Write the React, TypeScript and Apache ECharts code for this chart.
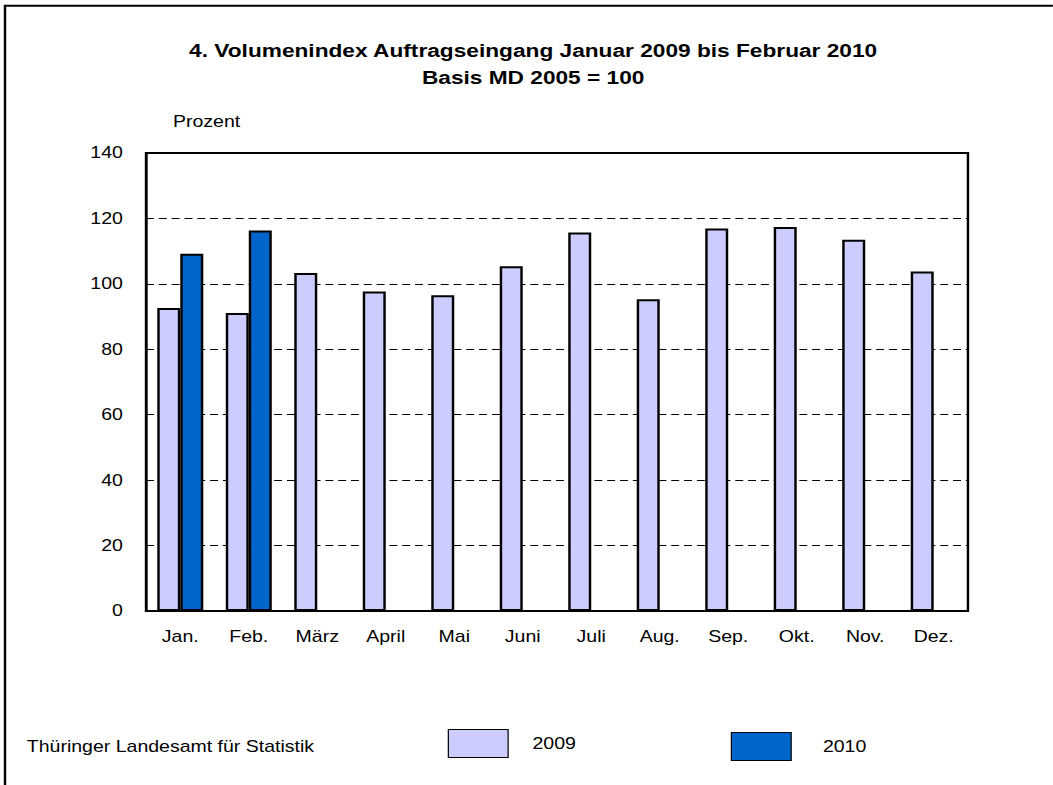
import React, { useEffect, useRef } from "react";
import * as echarts from "echarts";

const months = ["Jan.", "Feb.", "März", "April", "Mai", "Juni", "Juli", "Aug.", "Sep.", "Okt.", "Nov.", "Dez."];
const index2009 = [92.6, 91.1, 103.3, 97.7, 96.5, 105.4, 115.7, 95.3, 116.9, 117.4, 113.5, 103.8];
const index2010 = [109.2, 116.3, null, null, null, null, null, null, null, null, null, null];
const seriesNames = ["2009", "2010"];
const titleLines = ["4. Volumenindex Auftragseingang Januar 2009 bis Februar 2010", "Basis MD 2005 = 100"];
const yUnit = "Prozent";
const sourceText = "Thüringer Landesamt für Statistik";

// The reference is drawn horizontally stretched; reproduce with a CSS scale.
const SX = 1.22;
const W = Math.round(1053 / SX);
const H = 785;
const FONT = "'Liberation Sans', Arial, sans-serif";

export default function App() {
  const ref = useRef<HTMLDivElement>(null);
  useEffect(() => {
    const chart = echarts.init(ref.current!, null, { renderer: "svg" });
    chart.setOption({
      animation: false,
      backgroundColor: "#ffffff",
      textStyle: { fontFamily: FONT, color: "#000" },
      title: {
        text: titleLines.join("\n"),
        left: 437,
        top: 37,
        padding: 0,
        textAlign: "center",
        textStyle: { fontFamily: FONT, fontSize: 18.6, fontWeight: "bold", color: "#000", lineHeight: 27 },
      },
      legend: [
        {
          data: [seriesNames[0]],
          left: 367,
          top: 729,
          padding: 0,
          itemWidth: 49,
          itemHeight: 28,
          icon: "rect",
          itemStyle: { borderWidth: 1, borderColor: "#000" },
          textStyle: { fontFamily: FONT, fontSize: 16, color: "#000", padding: [0, 0, 12, 15] },
        },
        {
          data: [seriesNames[1]],
          left: 599,
          top: 732,
          padding: 0,
          itemWidth: 49,
          itemHeight: 28,
          icon: "rect",
          itemStyle: { borderWidth: 1, borderColor: "#000" },
          textStyle: { fontFamily: FONT, fontSize: 16, color: "#000", padding: [0, 0, 6, 21] },
        },
      ],
      grid: {
        left: 119.7,
        right: W - 793.4,
        top: 153,
        bottom: 174,
        show: true,
        borderColor: "#000",
        borderWidth: 2,
        backgroundColor: "transparent",
        containLabel: false,
      },
      xAxis: {
        type: "category",
        data: months,
        axisLine: { show: true, lineStyle: { color: "#000", width: 2 } },
        axisTick: { show: false },
        axisLabel: { fontFamily: FONT, fontSize: 16, color: "#000", margin: 18, interval: 0 },
        splitLine: { show: false },
      },
      yAxis: {
        type: "value",
        min: 0,
        max: 140,
        interval: 20,
        axisLine: { show: true, lineStyle: { color: "#000", width: 2 } },
        axisTick: { show: false },
        axisLabel: { fontFamily: FONT, fontSize: 16, color: "#000", margin: 19 },
        splitLine: { show: true, lineStyle: { color: "#000", width: 1, type: [6.5, 4] } },
      },
      graphic: [
        {
          type: "rect",
          silent: true,
          shape: { x: 4.1, y: 5.7, width: 3000, height: 3000 },
          style: { fill: "none", stroke: "#000", lineWidth: 2 },
        },
        {
          type: "text",
          x: 141.8,
          y: 122,
          style: { text: yUnit, fontFamily: FONT, fontSize: 16, fill: "#000", textAlign: "left", textVerticalAlign: "middle", align: "left", verticalAlign: "middle" },
        },
        {
          type: "text",
          x: 22,
          y: 747,
          style: { text: sourceText, fontFamily: FONT, fontSize: 16, fill: "#000", textAlign: "left", textVerticalAlign: "middle", align: "left", verticalAlign: "middle" },
        },
      ],
      series: [
        {
          name: seriesNames[0],
          type: "bar",
          data: index2009,
          barWidth: 18.85,
          barGap: "0%",
          itemStyle: { color: "#CCCCFF", borderColor: "#000", borderWidth: 2 },
        },
        {
          name: seriesNames[1],
          type: "bar",
          data: index2010,
          barWidth: 18.85,
          barGap: "0%",
          itemStyle: { color: "#0066CC", borderColor: "#000", borderWidth: 2 },
        },
      ],
    });
    return () => chart.dispose();
  }, []);
  return (
    <div
      ref={ref}
      style={{
        position: "fixed",
        left: 0,
        top: 0,
        width: W,
        height: H,
        transform: `scaleX(${SX})`,
        transformOrigin: "0 0",
        background: "#fff",
      }}
    />
  );
}
